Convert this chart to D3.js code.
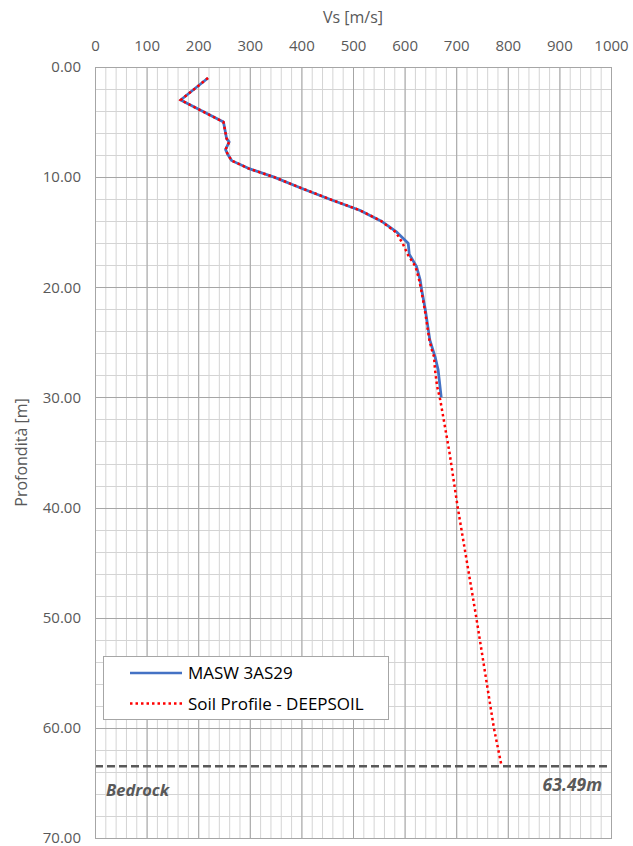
<!DOCTYPE html>
<html><head><meta charset="utf-8">
<script src="https://cdn.jsdelivr.net/npm/d3@7"></script>
<style>body{margin:0;background:#fff}svg{display:block}text{font-family:"Open Sans",sans-serif}</style>
</head><body>
<svg id="c" width="633" height="846"></svg>
<script>
// Data
const maswDepth = [1.0, 3.0, 5.0, 6.5, 6.8, 7.5, 8.0, 8.5, 9.2, 10.0, 11.0, 12.0, 13.0, 14.0, 15.0, 16.0, 17.0, 18.1, 19.3, 20.2, 22.0, 24.8, 25.7, 26.3, 27.5, 30.0];
const maswVs    = [219, 166, 249, 255, 260, 253, 258, 265, 297, 347, 400, 455, 513, 555, 585, 607, 609, 623, 630, 633, 640, 649, 655, 659, 665, 671];
const soilDepth = [1.0, 3.0, 5.0, 6.5, 6.8, 7.5, 8.0, 8.5, 9.2, 10.0, 11.0, 12.0, 13.0, 14.0, 15.0, 16.0, 17.1, 18.1, 19.3, 20.2, 22.0, 24.8, 25.7, 26.3, 27.5, 29.0, 30.2, 35.0, 40.0, 45.0, 50.0, 55.0, 60.0, 63.49];
const soilVs    = [219, 166, 249, 255, 260, 253, 258, 265, 297, 347, 400, 455, 513, 555, 583, 596, 607, 621, 628, 632, 639, 648, 653, 657, 659, 663, 669, 687, 703, 721, 739, 756, 773, 788];
const bedrockDepth = 63.49;
const xTicks = [0,100,200,300,400,500,600,700,800,900,1000];
const yTicks = [0,10,20,30,40,50,60,70];
const seriesNames = ["MASW 3AS29", "Soil Profile - DEEPSOIL"];

const svg = d3.select("#c");
const L = 95, R = 611, T = 67, B = 838;
const x = d3.scaleLinear().domain([0,1000]).range([L,R]);
const y = d3.scaleLinear().domain([0,70]).range([T,B]);

// minor grid
const g = svg.append("g");
g.selectAll(".mx").data(d3.range(0,1001,20)).join("line")
  .attr("x1",d=>x(d)+0.5).attr("x2",d=>x(d)+0.5).attr("y1",T).attr("y2",B)
  .attr("stroke","#d4d4d4").attr("stroke-width",1);
g.selectAll(".my").data(d3.range(0,70.01,2)).join("line")
  .attr("y1",d=>Math.round(y(d))+0.5).attr("y2",d=>Math.round(y(d))+0.5).attr("x1",L).attr("x2",R)
  .attr("stroke","#d4d4d4").attr("stroke-width",1);
// majors on top
g.selectAll(".Mx").data(xTicks).join("line")
  .attr("x1",d=>x(d)+0.5).attr("x2",d=>x(d)+0.5).attr("y1",T).attr("y2",B)
  .attr("stroke","#a6a6a6");
g.selectAll(".My").data(yTicks).join("line")
  .attr("y1",d=>Math.round(y(d))+0.5).attr("y2",d=>Math.round(y(d))+0.5).attr("x1",L).attr("x2",R)
  .attr("stroke","#a6a6a6");

// axes
const xa = svg.append("g").attr("transform",`translate(0,${T})`)
  .call(d3.axisTop(x).tickValues(xTicks).tickSize(0).tickPadding(16).tickFormat(d3.format("d")));
const ya = svg.append("g").attr("transform",`translate(${L},0)`)
  .call(d3.axisLeft(y).tickValues(yTicks).tickSize(0).tickPadding(14).tickFormat(d3.format(".2f")));
[xa,ya].forEach(a=>{a.select(".domain").remove();
  a.selectAll("text").attr("fill","#595959").style("font-size","15px").style("font-family","'Open Sans',sans-serif");});

svg.append("text").attr("x",(L+R)/2).attr("y",23).attr("text-anchor","middle")
  .attr("fill","#595959").style("font-size","16px").text("Vs [m/s]");
svg.append("text").attr("transform",`translate(27,${(T+B)/2}) rotate(-90)`).attr("text-anchor","middle")
  .attr("fill","#595959").style("font-size","16px").text("Profondità [m]");

// lines
const maswPts = maswDepth.map((d,i)=>[maswVs[i],d]);
const soilPts = soilDepth.map((d,i)=>[soilVs[i],d]);
const line = d3.line().x(p=>x(p[0])).y(p=>y(p[1]));
svg.append("path").attr("d",line(maswPts)).attr("fill","none").attr("stroke","#4472C4")
  .attr("stroke-width",2.75).attr("stroke-linejoin","round");
svg.append("path").attr("d",line(soilPts)).attr("fill","none").attr("stroke","#FF0000")
  .attr("stroke-width",2.5).attr("stroke-dasharray","2.5,3");

// bedrock
svg.append("line").attr("x1",L).attr("x2",R).attr("y1",y(bedrockDepth)).attr("y2",y(bedrockDepth))
  .attr("stroke","#595959").attr("stroke-width",2.5).attr("stroke-dasharray","8,4");
svg.append("text").attr("x",106).attr("y",y(bedrockDepth)+30).attr("fill","#595959")
  .style("font-size","16.5px").style("font-weight","bold").style("font-style","italic").text("Bedrock");
svg.append("text").attr("x",602).attr("y",y(bedrockDepth)+25).attr("text-anchor","end").attr("fill","#595959")
  .style("font-size","17.5px").style("font-weight","bold").style("font-style","italic").text(bedrockDepth.toFixed(2)+"m");

// plot border
svg.append("rect").attr("x",L+0.5).attr("y",T+0.5).attr("width",R-L).attr("height",B-T)
  .attr("fill","none").attr("stroke","#a6a6a6");

// legend
const lg = svg.append("g");
lg.append("rect").attr("x",103.5).attr("y",656.5).attr("width",285).attr("height",63)
  .attr("fill","#fff").attr("stroke","#a6a6a6");
lg.append("line").attr("x1",130).attr("x2",182).attr("y1",673).attr("y2",673)
  .attr("stroke","#4472C4").attr("stroke-width",2.5);
lg.append("line").attr("x1",130).attr("x2",182).attr("y1",703.5).attr("y2",703.5)
  .attr("stroke","#FF0000").attr("stroke-width",2.5).attr("stroke-dasharray","2.5,3");
lg.selectAll("text.l").data(seriesNames).join("text")
  .attr("x",188).attr("y",(d,i)=>679+i*30.5).attr("fill","#000")
  .style("font-size","17px").text(d=>d);
</script>
</body></html>
